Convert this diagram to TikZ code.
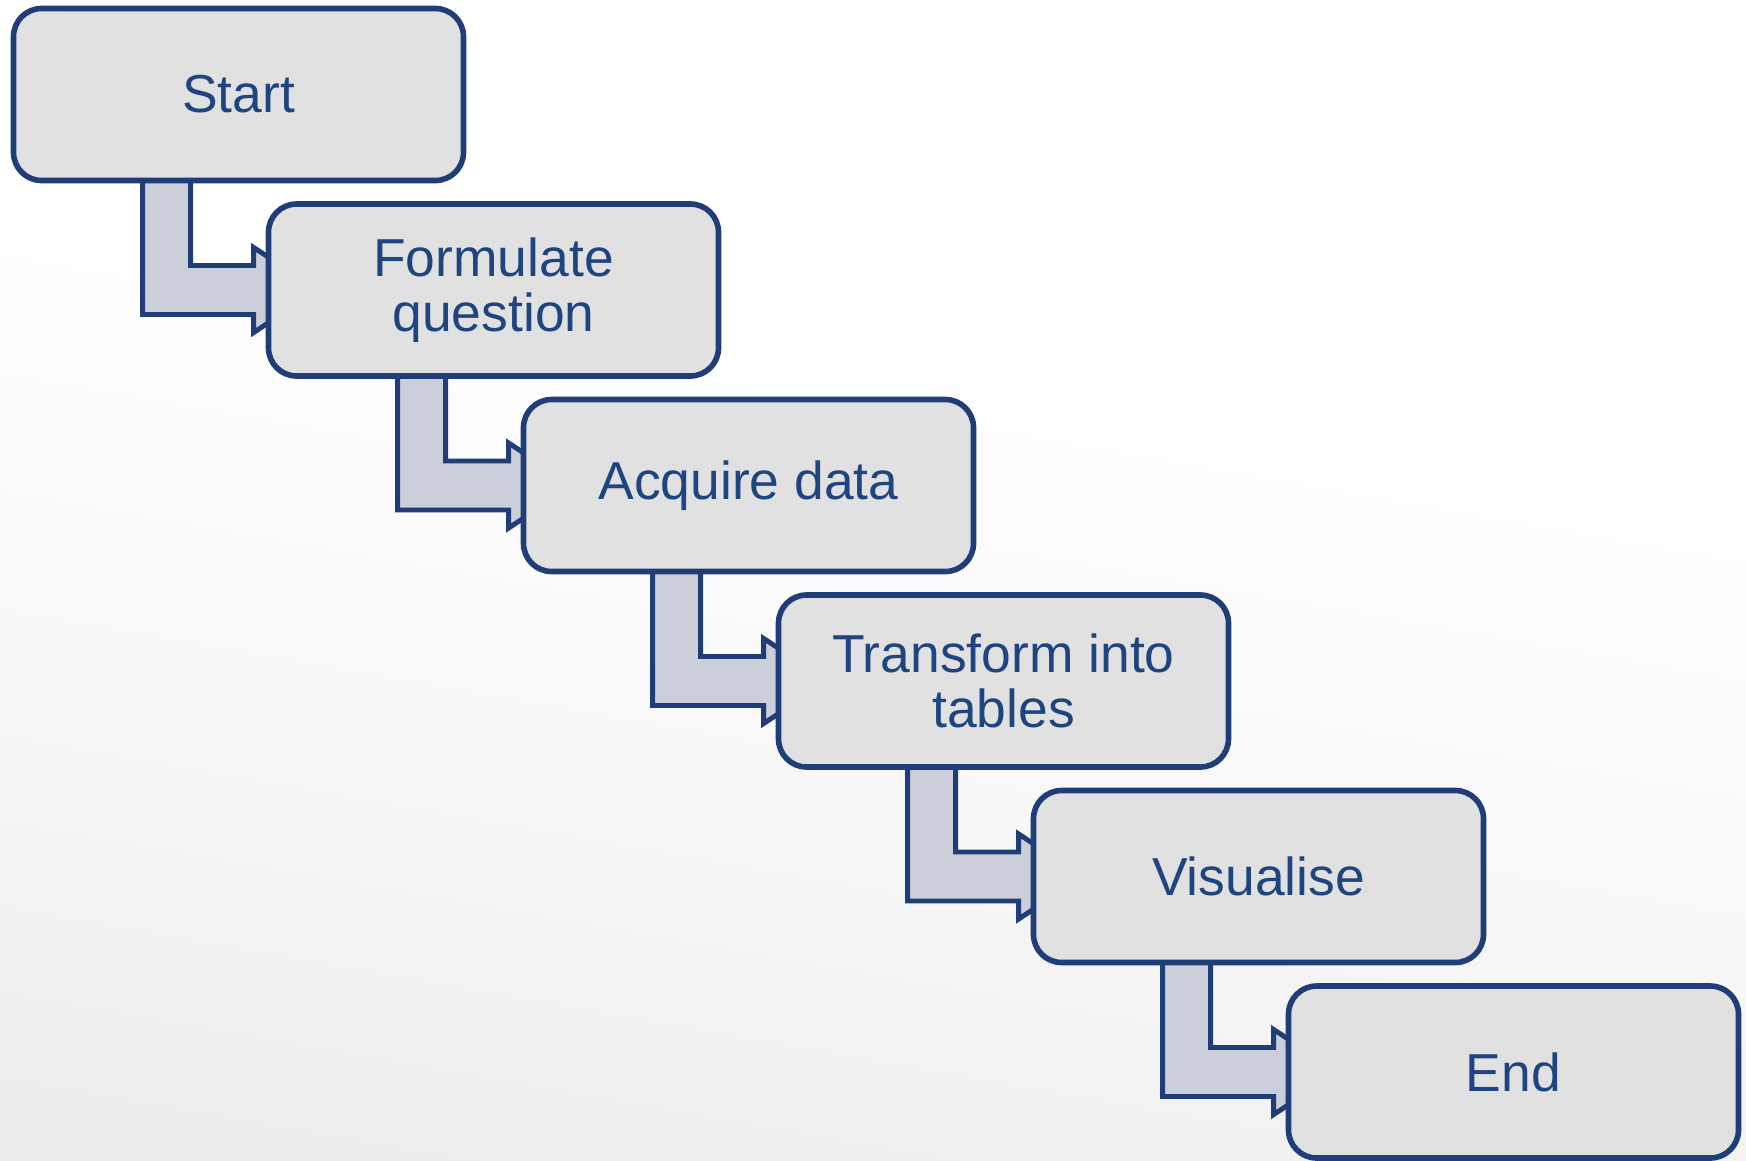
\documentclass[tikz,border=0pt]{standalone}
\usepackage{fontspec}
\setmainfont{Liberation Sans}
\usetikzlibrary{calc}
\definecolor{stepblue}{RGB}{31, 62, 120}
\definecolor{textblue}{RGB}{31, 69, 128}
\definecolor{boxgray}{RGB}{225, 225, 225}
\definecolor{linkgray}{RGB}{203, 207, 217}
\definecolor{bggray}{RGB}{232, 232, 232}
\pgfdeclareverticalshading{bgfade}{100bp}{color(0bp)=(bggray); color(15bp)=(bggray); color(42bp)=(white!70!bggray); color(58bp)=(white); color(100bp)=(white)}
\pgfdeclarelayer{bg}
\pgfdeclarelayer{links}
\pgfsetlayers{bg,links,main}

\begin{document}
\begin{tikzpicture}[
  stepbox/.style={draw=stepblue, fill=boxgray, line width=1.6pt, rounded corners=8pt,
    minimum width=4.5cm, minimum height=1.72cm, align=center, text=textblue,
    font=\fontsize{15.2pt}{15.8pt}\selectfont},
  link/.style={draw=stepblue, fill=linkgray, line width=1.4pt, line join=miter}
]
  % background
  \begin{pgfonlayer}{bg}
    \shade[shading=bgfade, shading angle=-10] (0,0) rectangle (17.46,-11.60);
  \end{pgfonlayer}
  \useasboundingbox (0,0) rectangle (17.46,-11.60);

  % steps
  \node[stepbox] (start) at (2.385, -0.945) {Start};
  \node[stepbox] (formulate) at (4.935, -2.900) {Formulate\\question};
  \node[stepbox] (acquire) at (7.485, -4.855) {Acquire data};
  \node[stepbox] (transform) at (10.035, -6.810) {Transform into\\tables};
  \node[stepbox] (visualise) at (12.585, -8.765) {Visualise};
  \node[stepbox] (finish) at (15.135, -10.720) {End};

  % bent arrows between steps
  \begin{pgfonlayer}{links}
    \foreach \from/\to in {start/formulate, formulate/acquire, acquire/transform, transform/visualise, visualise/finish}
      \draw[link] let \p1=(\from.south west), \p2=(\to.west) in
        (\x1+1.32cm, \y1+1mm) -- (\x1+1.32cm, \y2-0.245cm) -- (\x2-0.12cm, \y2-0.245cm)
        -- (\x2-0.12cm, \y2-0.425cm) -- (\x2+0.52cm, \y2) -- (\x2-0.12cm, \y2+0.425cm)
        -- (\x2-0.12cm, \y2+0.245cm) -- (\x1+1.80cm, \y2+0.245cm) -- (\x1+1.80cm, \y1+1mm) -- cycle;
  \end{pgfonlayer}
\end{tikzpicture}
\end{document}
